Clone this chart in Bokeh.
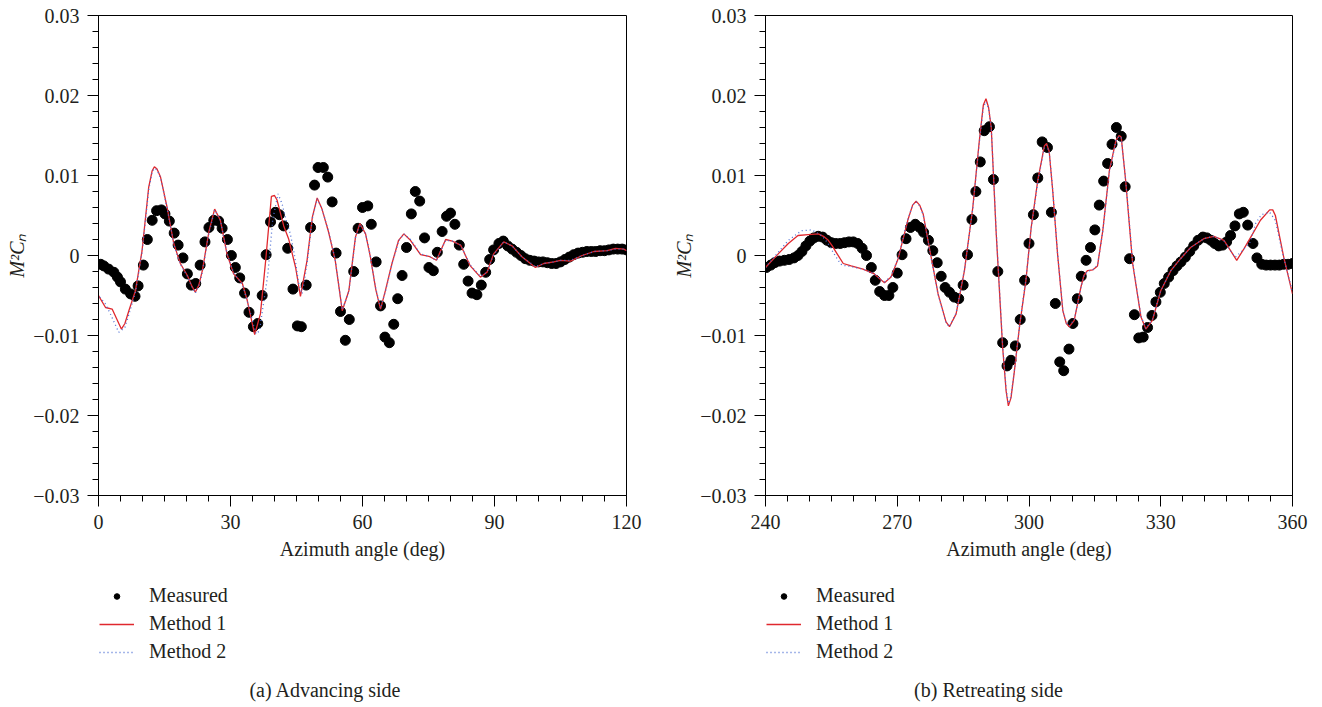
from bokeh.plotting import figure
from bokeh.layouts import row, column
from bokeh.models import (Range1d, FixedTicker, CustomJSTickFormatter, Legend,
                          LegendItem, Label)
from bokeh.embed import file_html
from bokeh.resources import INLINE

# ---------------- (a) Advancing side ----------------
adv_meas_deg = [0.5, 1.2, 2.3, 3.5, 4.3, 5.0, 6.1, 7.3, 8.3, 9.0, 10.2, 11.1, 12.2, 13.2, 14.3, 15.1,
                16.1, 17.2, 18.1, 19.2, 20.2, 21.1, 22.1, 23.1, 24.2, 25.1, 26.2, 27.3, 28.1, 29.3,
                30.2, 31.1, 32.1, 33.2, 34.2, 35.2, 36.2, 37.2, 38.1, 39.1, 40.2, 41.1, 42.1, 43.0,
                44.2, 45.2, 46.1, 47.2, 48.2, 49.1, 49.9, 51.1, 52.1, 53.1, 54.0, 55.0, 56.1, 57.0,
                58.0, 59.0, 60.0, 61.2, 62.0, 63.1, 64.1, 65.1, 66.1, 67.1, 68.0, 69.0, 70.0, 71.1,
                72.0, 73.0, 74.1, 75.1, 76.1, 77.0, 78.1, 79.1, 80.0, 81.0, 82.0, 83.0, 84.0, 84.9,
                86.0, 87.0, 88.0, 88.9, 89.8, 91.0, 92.0, 93, 94, 95, 96, 97, 98, 99, 100, 101, 102,
                103, 104, 105, 106, 107, 108, 109, 110, 111, 112, 113, 114, 115, 116, 117, 118, 119, 120]
adv_meas_val = [-0.0011, -0.0013, -0.0017, -0.0021, -0.0027, -0.0033, -0.0042, -0.0048, -0.0051, -0.0038,
                -0.0012, 0.0020, 0.0044, 0.0056, 0.0057, 0.0052, 0.0043, 0.0028, 0.0013, -0.0003,
                -0.0023, -0.0037, -0.0035, -0.0012, 0.0017, 0.0035, 0.0044, 0.0043, 0.0034, 0.0020,
                0.0000, -0.0015, -0.0028, -0.0047, -0.0071, -0.0089, -0.0085, -0.0050, 0.0001, 0.0042,
                0.0054, 0.0051, 0.0037, 0.0009, -0.0042, -0.0088, -0.0089, -0.0037, 0.0035, 0.0088,
                0.0110, 0.0110, 0.0098, 0.0067, 0.0003, -0.0070, -0.0106, -0.0080, -0.0020, 0.0034,
                0.0060, 0.0062, 0.0039, -0.0008, -0.0063, -0.0102, -0.0109, -0.0086, -0.0054, -0.0025,
                0.0010, 0.0052, 0.0080, 0.0068, 0.0022, -0.0015, -0.0019, 0.0004, 0.0030, 0.0049,
                0.0053, 0.0039, 0.0013, -0.0011, -0.0032, -0.0047, -0.0049, -0.0037, -0.0021, -0.0005,
                0.0007, 0.0015, 0.0018, 0.0012, 0.0008, 0.0004, 0.0000, -0.0004, -0.0006, -0.0007,
                -0.0008, -0.0008, -0.0009, -0.0010, -0.0010, -0.0008, -0.0005, -0.0002, 0.0001, 0.0003,
                0.0004, 0.0005, 0.0005, 0.0005, 0.0006, 0.0006, 0.0007, 0.0008, 0.0008, 0.0008, 0.0007]

adv_m1_deg = [0, 1.6, 3.1, 4.2, 5.2, 6.0, 6.9, 8.4, 9.9, 11.4, 12.2, 12.7, 13.3, 14.1, 15.6, 17.1, 18.6,
              20.2, 21.2, 22.0, 22.8, 23.6, 25.1, 26.4, 27.7, 29.2, 30.7, 32.7, 33.8, 35.5, 36.8, 38.0,
              39.3, 40.0, 40.6, 42.1, 43.2, 44.8, 45.9, 47.4, 48.6, 49.7, 50.8, 52.3, 53.8, 55.4, 56.9,
              58.4, 59.4, 60.7, 61.8, 63.0, 64.1, 65.2, 66.7, 68.2, 69.4, 70.9, 73.2, 75.1, 76.8, 78.9,
              80.4, 82.3, 84.5, 86.8, 88.3, 89.8, 92.1, 94.0, 96.3, 99.3, 101.2, 103.5, 105.0, 107.3,
              109.9, 112.6, 115.6, 117.5, 119.4, 120]
adv_m1_val = [-0.0050, -0.0065, -0.0067, -0.0080, -0.0092, -0.0085, -0.0069, -0.0044, 0.0006, 0.0085,
              0.0106, 0.0111, 0.0108, 0.0098, 0.0060, 0.0015, -0.0010, -0.0025, -0.0038, -0.0046,
              -0.0037, -0.0019, 0.0030, 0.0058, 0.0044, 0.0002, -0.0023, -0.0035, -0.0056, -0.0099,
              -0.0073, -0.0006, 0.0074, 0.0075, 0.0069, 0.0037, 0.0021, -0.0015, -0.0051, -0.0006,
              0.0048, 0.0072, 0.0058, 0.0029, -0.0006, -0.0069, -0.0044, 0.0023, 0.0040, 0.0027,
              -0.0002, -0.0042, -0.0067, -0.0044, -0.0010, 0.0019, 0.0027, 0.0019, 0.0001, -0.0001,
              -0.0006, 0.0020, 0.0018, 0.0013, -0.0013, -0.0027, -0.0021, 0.0002, 0.0017, 0.0012,
              -0.0002, -0.0015, -0.0010, -0.0008, -0.0006, -0.0007, 0.0000, 0.0005, 0.0006, 0.0009,
              0.0008, 0.0006]

adv_m2_deg = [0.3, 1.5, 2.7, 4.6, 6.0, 7.0, 8.4, 9.9, 11.4, 12.2, 12.7, 13.3, 14.1, 15.6, 17.1, 18.6,
              20.2, 21.2, 22.0, 22.8, 23.6, 25.1, 26.4, 27.7, 29.2, 30.7, 32.7, 33.8, 35.8, 36.6, 37.5,
              38.5, 39.6, 40.8, 41.7, 42.6, 43.6, 44.5, 45.5, 46.3, 47.4, 48.6, 49.7, 50.8, 52.3, 53.8,
              55.4, 56.9, 58.4, 59.4, 60.7, 61.8, 63.0, 64.1, 65.2, 66.7, 68.2, 69.4, 70.9, 73.2, 75.1,
              76.8, 78.9, 80.4, 82.3, 84.5, 86.8, 88.3, 89.8, 92.1, 94.0, 96.3, 99.3, 101.2, 103.5,
              105.0, 107.3, 109.9, 112.6, 115.6, 117.5, 119.4, 120]
adv_m2_val = [-0.0052, -0.0060, -0.0073, -0.0096, -0.0090, -0.0072, -0.0046, 0.0004, 0.0082, 0.0104,
              0.0109, 0.0107, 0.0097, 0.0059, 0.0014, -0.0011, -0.0026, -0.0039, -0.0047, -0.0038,
              -0.0021, 0.0028, 0.0057, 0.0044, 0.0003, -0.0022, -0.0036, -0.0057, -0.0098, -0.0094,
              -0.0060, -0.0023, 0.0045, 0.0077, 0.0065, 0.0045, 0.0027, 0.0002, -0.0035, -0.0048,
              -0.0010, 0.0046, 0.0071, 0.0058, 0.0030, -0.0005, -0.0068, -0.0045, 0.0022, 0.0039,
              0.0027, -0.0001, -0.0041, -0.0066, -0.0045, -0.0011, 0.0018, 0.0027, 0.0020, 0.0002,
              -0.0001, -0.0006, 0.0019, 0.0018, 0.0013, -0.0012, -0.0026, -0.0021, 0.0001, 0.0017,
              0.0012, -0.0002, -0.0014, -0.0010, -0.0008, -0.0006, -0.0006, 0.0000, 0.0005, 0.0006,
              0.0008, 0.0008, 0.0006]

# ---------------- (b) Retreating side ----------------
ret_meas_deg = [240.2, 241.2, 242.1, 243.2, 244.3, 245.4, 246.5, 247.4, 248.3, 249.2, 250.1, 251.0,
                252.0, 253.0, 254.0, 255.0, 256.0, 257.0, 258.0, 259.0, 260.0, 261.0, 262.0, 263.0,
                264.1, 265.0, 266.0, 267.1, 268.1, 269.0, 270.0, 271.1, 272.0, 273.0, 274.1, 275.1,
                276.0, 277.1, 278.1, 279.1, 280.0, 280.9, 281.9, 283.0, 284.0, 285.0, 286.0, 287.0,
                287.9, 288.9, 289.8, 291.0, 291.9, 292.9, 294.0, 295.0, 295.9, 296.9, 298.0, 299.0,
                300.0, 301.0, 302.0, 303.0, 304.2, 305.1, 306.0, 307.0, 307.9, 309.1, 310.0, 311.0,
                311.9, 313.0, 314.0, 315.0, 316.0, 317.0, 317.9, 318.9, 319.9, 321.0, 321.9, 322.9,
                324.0, 325.0, 326.0, 327.0, 328.0, 328.9, 329.9, 330.8, 331.8, 332.8, 333.7, 334.6,
                335.6, 336.6, 337.5, 338.5, 339.6, 340.5, 341.4, 342.3, 343.2, 344.1, 345.0, 345.9,
                346.9, 347.9, 348.8, 349.8, 351.0, 351.9, 353.0, 354.0, 355.0, 356.0, 357.0, 358.0,
                359.0, 360.0]
ret_meas_val = [-0.0015, -0.0012, -0.0009, -0.0007, -0.0006, -0.0005, -0.0003, 0.0000, 0.0005, 0.0012,
                0.0018, 0.0022, 0.0024, 0.0023, 0.0019, 0.0016, 0.0015, 0.0015, 0.0016, 0.0017,
                0.0017, 0.0015, 0.0009, 0.0000, -0.0015, -0.0031, -0.0045, -0.0050, -0.0050, -0.0040,
                -0.0022, 0.0001, 0.0021, 0.0035, 0.0039, 0.0035, 0.0029, 0.0019, 0.0006, -0.0009,
                -0.0026, -0.0040, -0.0046, -0.0052, -0.0054, -0.0037, 0.0001, 0.0045, 0.0080, 0.0117,
                0.0156, 0.0161, 0.0095, -0.0020, -0.0109, -0.0138, -0.0131, -0.0113, -0.0080, -0.0031,
                0.0015, 0.0051, 0.0097, 0.0142, 0.0135, 0.0054, -0.0060, -0.0133, -0.0144, -0.0117,
                -0.0085, -0.0054, -0.0026, -0.0006, 0.0010, 0.0032, 0.0063, 0.0093, 0.0115, 0.0139,
                0.0160, 0.0149, 0.0086, -0.0004, -0.0074, -0.0103, -0.0102, -0.0090, -0.0075, -0.0058,
                -0.0046, -0.0035, -0.0027, -0.0019, -0.0013, -0.0008, -0.0002, 0.0005, 0.0012, 0.0019,
                0.0023, 0.0022, 0.0019, 0.0015, 0.0012, 0.0013, 0.0017, 0.0025, 0.0037, 0.0052,
                0.0054, 0.0038, 0.0015, -0.0003, -0.0011, -0.0012, -0.0012, -0.0012, -0.0012, -0.0011,
                -0.0011, -0.0010]

ret_m1_deg = [240.0, 242.9, 245.2, 247.4, 249.7, 252.0, 253.2, 254.3, 255.2, 256.1, 257.0, 257.7, 259.5,
              262.2, 264.8, 266.2, 267.1, 268.6, 270.2, 272.4, 273.5, 274.3, 275.1, 275.9, 277.3, 279.3,
              281.1, 281.9, 283.4, 285.3, 287.2, 288.7, 289.6, 290.2, 290.8, 291.4, 292.5, 294.0, 294.8,
              295.3, 295.9, 296.6, 297.9, 299.3, 300.5, 302.0, 303.5, 304.0, 304.6, 305.4, 306.5, 307.7,
              308.5, 309.2, 310.3, 311.8, 312.5, 313.3, 314.5, 315.6, 316.8, 318.3, 319.8, 320.5, 321.0,
              322.0, 323.6, 325.5, 326.6, 328.1, 330.0, 332.3, 334.5, 336.8, 339.8, 342.1, 344.4, 345.9,
              347.3, 348.9, 350.5, 352.7, 354.8, 355.5, 356.1, 358.0, 360.0]
ret_m1_val = [-0.0015, 0.0002, 0.0015, 0.0025, 0.0026, 0.0027, 0.0024, 0.0019, 0.0012, 0.0004, -0.0004,
              -0.0010, -0.0013, -0.0017, -0.0023, -0.0030, -0.0034, -0.0027, -0.0004, 0.0044, 0.0063,
              0.0068, 0.0063, 0.0052, 0.0010, -0.0048, -0.0083, -0.0089, -0.0073, -0.0019, 0.0060,
              0.0144, 0.0188, 0.0196, 0.0185, 0.0160, 0.0031, -0.0115, -0.0170, -0.0188, -0.0178,
              -0.0148, -0.0086, -0.0031, 0.0035, 0.0094, 0.0137, 0.0140, 0.0130, 0.0081, 0.0002,
              -0.0069, -0.0085, -0.0089, -0.0081, -0.0040, -0.0025, -0.0019, -0.0018, -0.0013, 0.0031,
              0.0106, 0.0144, 0.0150, 0.0148, 0.0094, -0.0010, -0.0077, -0.0092, -0.0081, -0.0044,
              -0.0019, -0.0004, 0.0010, 0.0021, 0.0024, 0.0019, 0.0006, -0.0006, 0.0008, 0.0023,
              0.0044, 0.0057, 0.0057, 0.0050, -0.0002, -0.0048]

ret_m2_deg = [240.0, 242.9, 245.2, 248.2, 250.5, 252.5, 253.6, 254.6, 255.5, 256.8, 257.4, 259.5, 262.2,
              264.8, 266.2, 267.1, 268.6, 270.2, 272.4, 273.5, 274.3, 275.1, 275.9, 277.3, 279.3, 281.1,
              281.9, 283.4, 285.3, 287.2, 288.7, 289.6, 290.2, 290.8, 291.4, 292.5, 294.0, 294.8, 295.3,
              295.9, 296.6, 297.9, 299.3, 300.5, 302.0, 303.5, 304.0, 304.6, 305.4, 306.5, 307.7, 308.5,
              309.2, 310.3, 311.8, 312.5, 313.3, 314.5, 315.6, 316.8, 318.3, 319.8, 320.5, 321.0, 322.0,
              323.6, 325.5, 326.6, 328.1, 330.0, 332.3, 334.5, 336.8, 339.8, 342.1, 344.4, 345.6, 347.0,
              348.6, 350.4, 351.6, 352.9, 354.8, 356.1, 357.6, 360.0]
ret_m2_val = [-0.0015, 0.0004, 0.0019, 0.0031, 0.0032, 0.0026, 0.0020, 0.0012, 0.0003, -0.0008, -0.0012,
              -0.0014, -0.0017, -0.0023, -0.0030, -0.0033, -0.0026, -0.0003, 0.0045, 0.0063, 0.0067,
              0.0062, 0.0051, 0.0009, -0.0049, -0.0084, -0.0089, -0.0072, -0.0018, 0.0058, 0.0142,
              0.0185, 0.0192, 0.0184, 0.0161, 0.0034, -0.0112, -0.0167, -0.0185, -0.0176, -0.0147,
              -0.0085, -0.0030, 0.0034, 0.0092, 0.0135, 0.0138, 0.0129, 0.0082, 0.0003, -0.0068,
              -0.0084, -0.0088, -0.0080, -0.0041, -0.0026, -0.0020, -0.0018, -0.0012, 0.0030, 0.0104,
              0.0143, 0.0149, 0.0147, 0.0095, -0.0008, -0.0076, -0.0091, -0.0080, -0.0044, -0.0019,
              -0.0004, 0.0010, 0.0021, 0.0024, 0.0018, 0.0008, -0.0002, 0.0006, 0.0017, 0.0040,
              0.0051, 0.0054, 0.0044, 0.0006, -0.0046]

x_ticks_a = [0, 30, 60, 90, 120]
x_ticks_b = [240, 270, 300, 330, 360]
y_ticks = [-0.03, -0.02, -0.01, 0, 0.01, 0.02, 0.03]
legend_labels = ["Measured", "Method 1", "Method 2"]
captions = ["(a) Advancing side", "(b) Retreating side"]
x_title = "Azimuth angle (deg)"
y_title = "M\u00b2C\u2099"

FONT = "Liberation Serif"
TXT = "#231f20"
RED = "#e0282e"
BLUE = "#4d6ed4"


def make_panel(xr, xticks, md, mv, m1d, m1v, m2d, m2v, bl, br):
    p = figure(width=661, height=575, output_backend="svg", toolbar_location=None,
               x_range=Range1d(xr[0], xr[1]), y_range=Range1d(-0.03, 0.03),
               min_border_left=bl, min_border_right=br, min_border_top=15,
               min_border_bottom=80, background_fill_color="white",
               border_fill_color="white")
    p.grid.visible = False
    p.outline_line_color = "black"
    p.outline_line_width = 1

    minor_x = [v for v in range(xr[0], xr[1] + 1, 5)]
    p.xaxis.ticker = FixedTicker(ticks=xticks, minor_ticks=minor_x)
    minor_y = [round(-0.03 + 0.002 * i, 4) for i in range(31)]
    p.yaxis.ticker = FixedTicker(ticks=y_ticks, minor_ticks=minor_y)
    p.yaxis.formatter = CustomJSTickFormatter(code="""
        if (Math.abs(tick) < 1e-9) return '0';
        const s = Math.abs(tick).toFixed(2);
        return tick < 0 ? '\\u2212' + s : s;
    """)
    for ax in (p.xaxis, p.yaxis):
        ax.axis_line_color = "black"
        ax.major_tick_line_color = "black"
        ax.minor_tick_line_color = "black"
        ax.major_tick_out = 11
        ax.major_tick_in = 0
        ax.minor_tick_out = 6
        ax.minor_tick_in = 0
        ax.major_label_text_font = FONT
        ax.major_label_text_font_size = "20px"
        ax.major_label_text_color = TXT
        ax.axis_label_text_font = FONT
        ax.axis_label_text_font_size = "20px"
        ax.axis_label_text_color = TXT
    p.xaxis.axis_label = x_title
    p.xaxis.axis_label_text_font_style = "normal"
    p.xaxis.major_label_standoff = 8
    p.xaxis.axis_label_standoff = 6
    p.yaxis.axis_label = y_title
    p.yaxis.axis_label_text_font_style = "italic"
    p.yaxis.major_label_standoff = 8
    p.yaxis.axis_label_standoff = 2

    p.scatter(md, mv, size=10, color="black")
    p.line(m1d, m1v, line_color=RED, line_width=1.3)
    p.line(m2d, m2v, line_color=BLUE, line_width=1.3, line_dash="1 3")
    return p


def make_footer(caption, cap_x):
    # the footer's frame is aligned by the column layout with the panel's frame above it
    f = figure(width=661, height=132, output_backend="svg", toolbar_location=None,
               x_axis_type=None, y_axis_type=None, x_range=Range1d(0, 1), y_range=Range1d(0, 1),
               min_border=0, outline_line_color=None, background_fill_color="white",
               border_fill_color="white")
    f.grid.visible = False
    # legend sample renderers: single points kept outside the visible range
    dot = f.scatter([-1], [-1], size=6, color="black")
    l1 = f.line([-2, -1], [-1, -1], line_color=RED, line_width=1.3)
    l2 = f.line([-2, -1], [-1, -1], line_color=BLUE, line_width=1.3, line_dash="1 3")
    legend = Legend(items=[LegendItem(label=legend_labels[0], renderers=[dot]),
                           LegendItem(label=legend_labels[1], renderers=[l1]),
                           LegendItem(label=legend_labels[2], renderers=[l2])],
                    location=(1, 44), orientation="vertical",
                    border_line_color=None, background_fill_alpha=0,
                    padding=0, margin=0, spacing=5, glyph_width=35, glyph_height=14,
                    label_height=20, label_standoff=15,
                    label_text_font=FONT, label_text_font_size="20px",
                    label_text_color=TXT)
    f.add_layout(legend, "center")
    cap = Label(x=cap_x, y=18, x_units="screen", y_units="screen", text=caption,
                text_align="center", text_baseline="middle", text_font=FONT,
                text_font_size="20px", text_color=TXT)
    f.add_layout(cap)
    return f


pa = make_panel((0, 120), x_ticks_a, adv_meas_deg, adv_meas_val, adv_m1_deg, adv_m1_val,
                adv_m2_deg, adv_m2_val, 98, 35)
pb = make_panel((240, 360), x_ticks_b, ret_meas_deg, ret_meas_val, ret_m1_deg, ret_m1_val,
                ret_m2_deg, ret_m2_val, 104, 30)
fa = make_footer(captions[0], 227)
fb = make_footer(captions[1], 223)

layout = row(column(pa, fa), column(pb, fb))
open("out.html", "w").write(file_html(layout, INLINE))
